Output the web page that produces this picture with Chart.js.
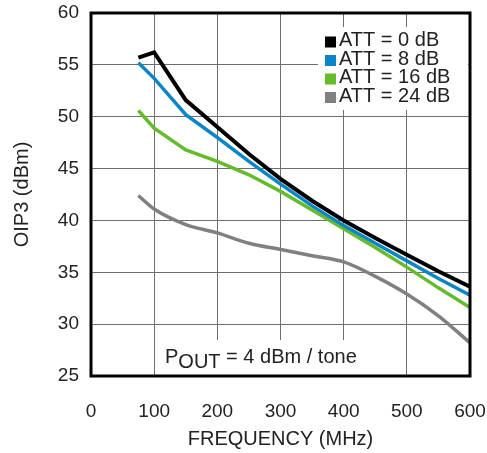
<!DOCTYPE html>
<html>
<head>
<meta charset="utf-8">
<script src="https://cdn.jsdelivr.net/npm/chart.js@4"></script>
<style>
  html, body { margin: 0; padding: 0; background: #fff; }
  #wrap { width: 487px; height: 453px; }
</style>
</head>
<body>
<div id="wrap"><canvas id="oip3Chart" width="487" height="453"></canvas></div>
<script>
const freqs = [75, 100, 150, 200, 250, 300, 350, 400, 450, 500, 550, 600];
const att0 = [55.7, 56.2, 51.6, 49.0, 46.4, 44.0, 41.9, 40.0, 38.3, 36.7, 35.1, 33.6];
const att8 = [55.2, 53.7, 50.2, 48.0, 45.7, 43.5, 41.4, 39.5, 37.8, 36.1, 34.4, 32.8];
const att16 = [50.6, 48.9, 46.8, 45.7, 44.4, 42.8, 41.0, 39.2, 37.4, 35.5, 33.5, 31.6];
const att24 = [42.4, 41.1, 39.6, 38.8, 37.8, 37.2, 36.6, 36.0, 34.6, 32.9, 30.8, 28.2];
const seriesLabels = ['ATT = 0 dB', 'ATT = 8 dB', 'ATT = 16 dB', 'ATT = 24 dB'];
const seriesColors = ['#000000', '#0a86c8', '#66bb2a', '#808080'];

function toPoints(values) {
    return values.map((v, i) => ({ x: freqs[i], y: v }));
}

// white boxes with the legend and the Pout note, drawn over the grid but under the lines
const overlayPlugin = {
    id: 'overlay',
    beforeDatasetsDraw(chart) {
        const ctx = chart.ctx;
        ctx.save();
        ctx.fillStyle = '#fff';
        ctx.fillRect(318, 27, 150, 83);
        ctx.fillRect(160, 340, 212, 35);

        ctx.font = '20px "Liberation Sans", Arial, sans-serif';
        ctx.textBaseline = 'middle';
        const rows = [40.5, 59, 77.5, 96];
        seriesLabels.forEach((label, i) => {
            ctx.fillStyle = seriesColors[i];
            ctx.fillRect(325, rows[i] - 4, 11, 11);
            ctx.fillStyle = '#222';
            ctx.fillText(label, 339, rows[i]);
        });

        ctx.textBaseline = 'alphabetic';
        ctx.fillStyle = '#222';
        let x = 165;
        ctx.fillText('P', x, 363);
        x += ctx.measureText('P').width;
        ctx.fillText('OUT', x, 368);
        x += ctx.measureText('OUT').width;
        ctx.fillText(' = 4 dBm / tone', x, 363);
        ctx.restore();
    },
    afterDraw(chart) {
        const a = chart.chartArea;
        const ctx = chart.ctx;
        ctx.save();
        ctx.strokeStyle = '#000';
        ctx.lineWidth = 3;
        ctx.strokeRect(a.left, a.top, a.right - a.left, a.bottom - a.top);
        ctx.restore();
    }
};

const datasets = [att0, att8, att16, att24].map((vals, i) => ({
    label: seriesLabels[i],
    data: toPoints(vals),
    borderColor: seriesColors[i],
    backgroundColor: seriesColors[i],
    borderWidth: i === 0 ? 4 : 3.5,
    pointRadius: 0,
    tension: 0,
    cubicInterpolationMode: i === 3 ? 'monotone' : 'default'
}));

new Chart(document.getElementById('oip3Chart').getContext('2d'), {
    type: 'line',
    data: { datasets: datasets },
    options: {
        responsive: false,
        animation: false,
        layout: { padding: { top: 13, right: 17, left: 0, bottom: 0 } },
        plugins: { legend: { display: false }, tooltip: { enabled: false } },
        scales: {
            x: {
                type: 'linear',
                min: 0,
                max: 600,
                ticks: {
                    stepSize: 100,
                    color: '#222',
                    padding: 24,
                    font: { family: '"Liberation Sans", Arial, sans-serif', size: 19 }
                },
                grid: { color: '#6e6e6e', lineWidth: 1, drawTicks: false },
                border: { display: false },
                title: {
                    display: true,
                    text: 'FREQUENCY (MHz)',
                    color: '#222',
                    padding: { top: 0, bottom: 2 },
                    font: { family: '"Liberation Sans", Arial, sans-serif', size: 20 }
                },
                afterFit(scale) {
                    scale.height = 77;
                    scale.paddingLeft = 0;
                    scale.paddingRight = 0;
                }
            },
            y: {
                min: 25,
                max: 60,
                ticks: {
                    stepSize: 5,
                    color: '#222',
                    padding: 12,
                    font: { family: '"Liberation Sans", Arial, sans-serif', size: 19 }
                },
                grid: { color: '#6e6e6e', lineWidth: 1, drawTicks: false },
                border: { display: false },
                title: {
                    display: true,
                    text: 'OIP3 (dBm)',
                    color: '#222',
                    padding: { top: 10, bottom: 0 },
                    font: { family: '"Liberation Sans", Arial, sans-serif', size: 20 }
                },
                afterFit(scale) {
                    scale.width = 91;
                    scale.paddingTop = 0;
                    scale.paddingBottom = 0;
                }
            }
        }
    },
    plugins: [overlayPlugin]
});
</script>
</body>
</html>
